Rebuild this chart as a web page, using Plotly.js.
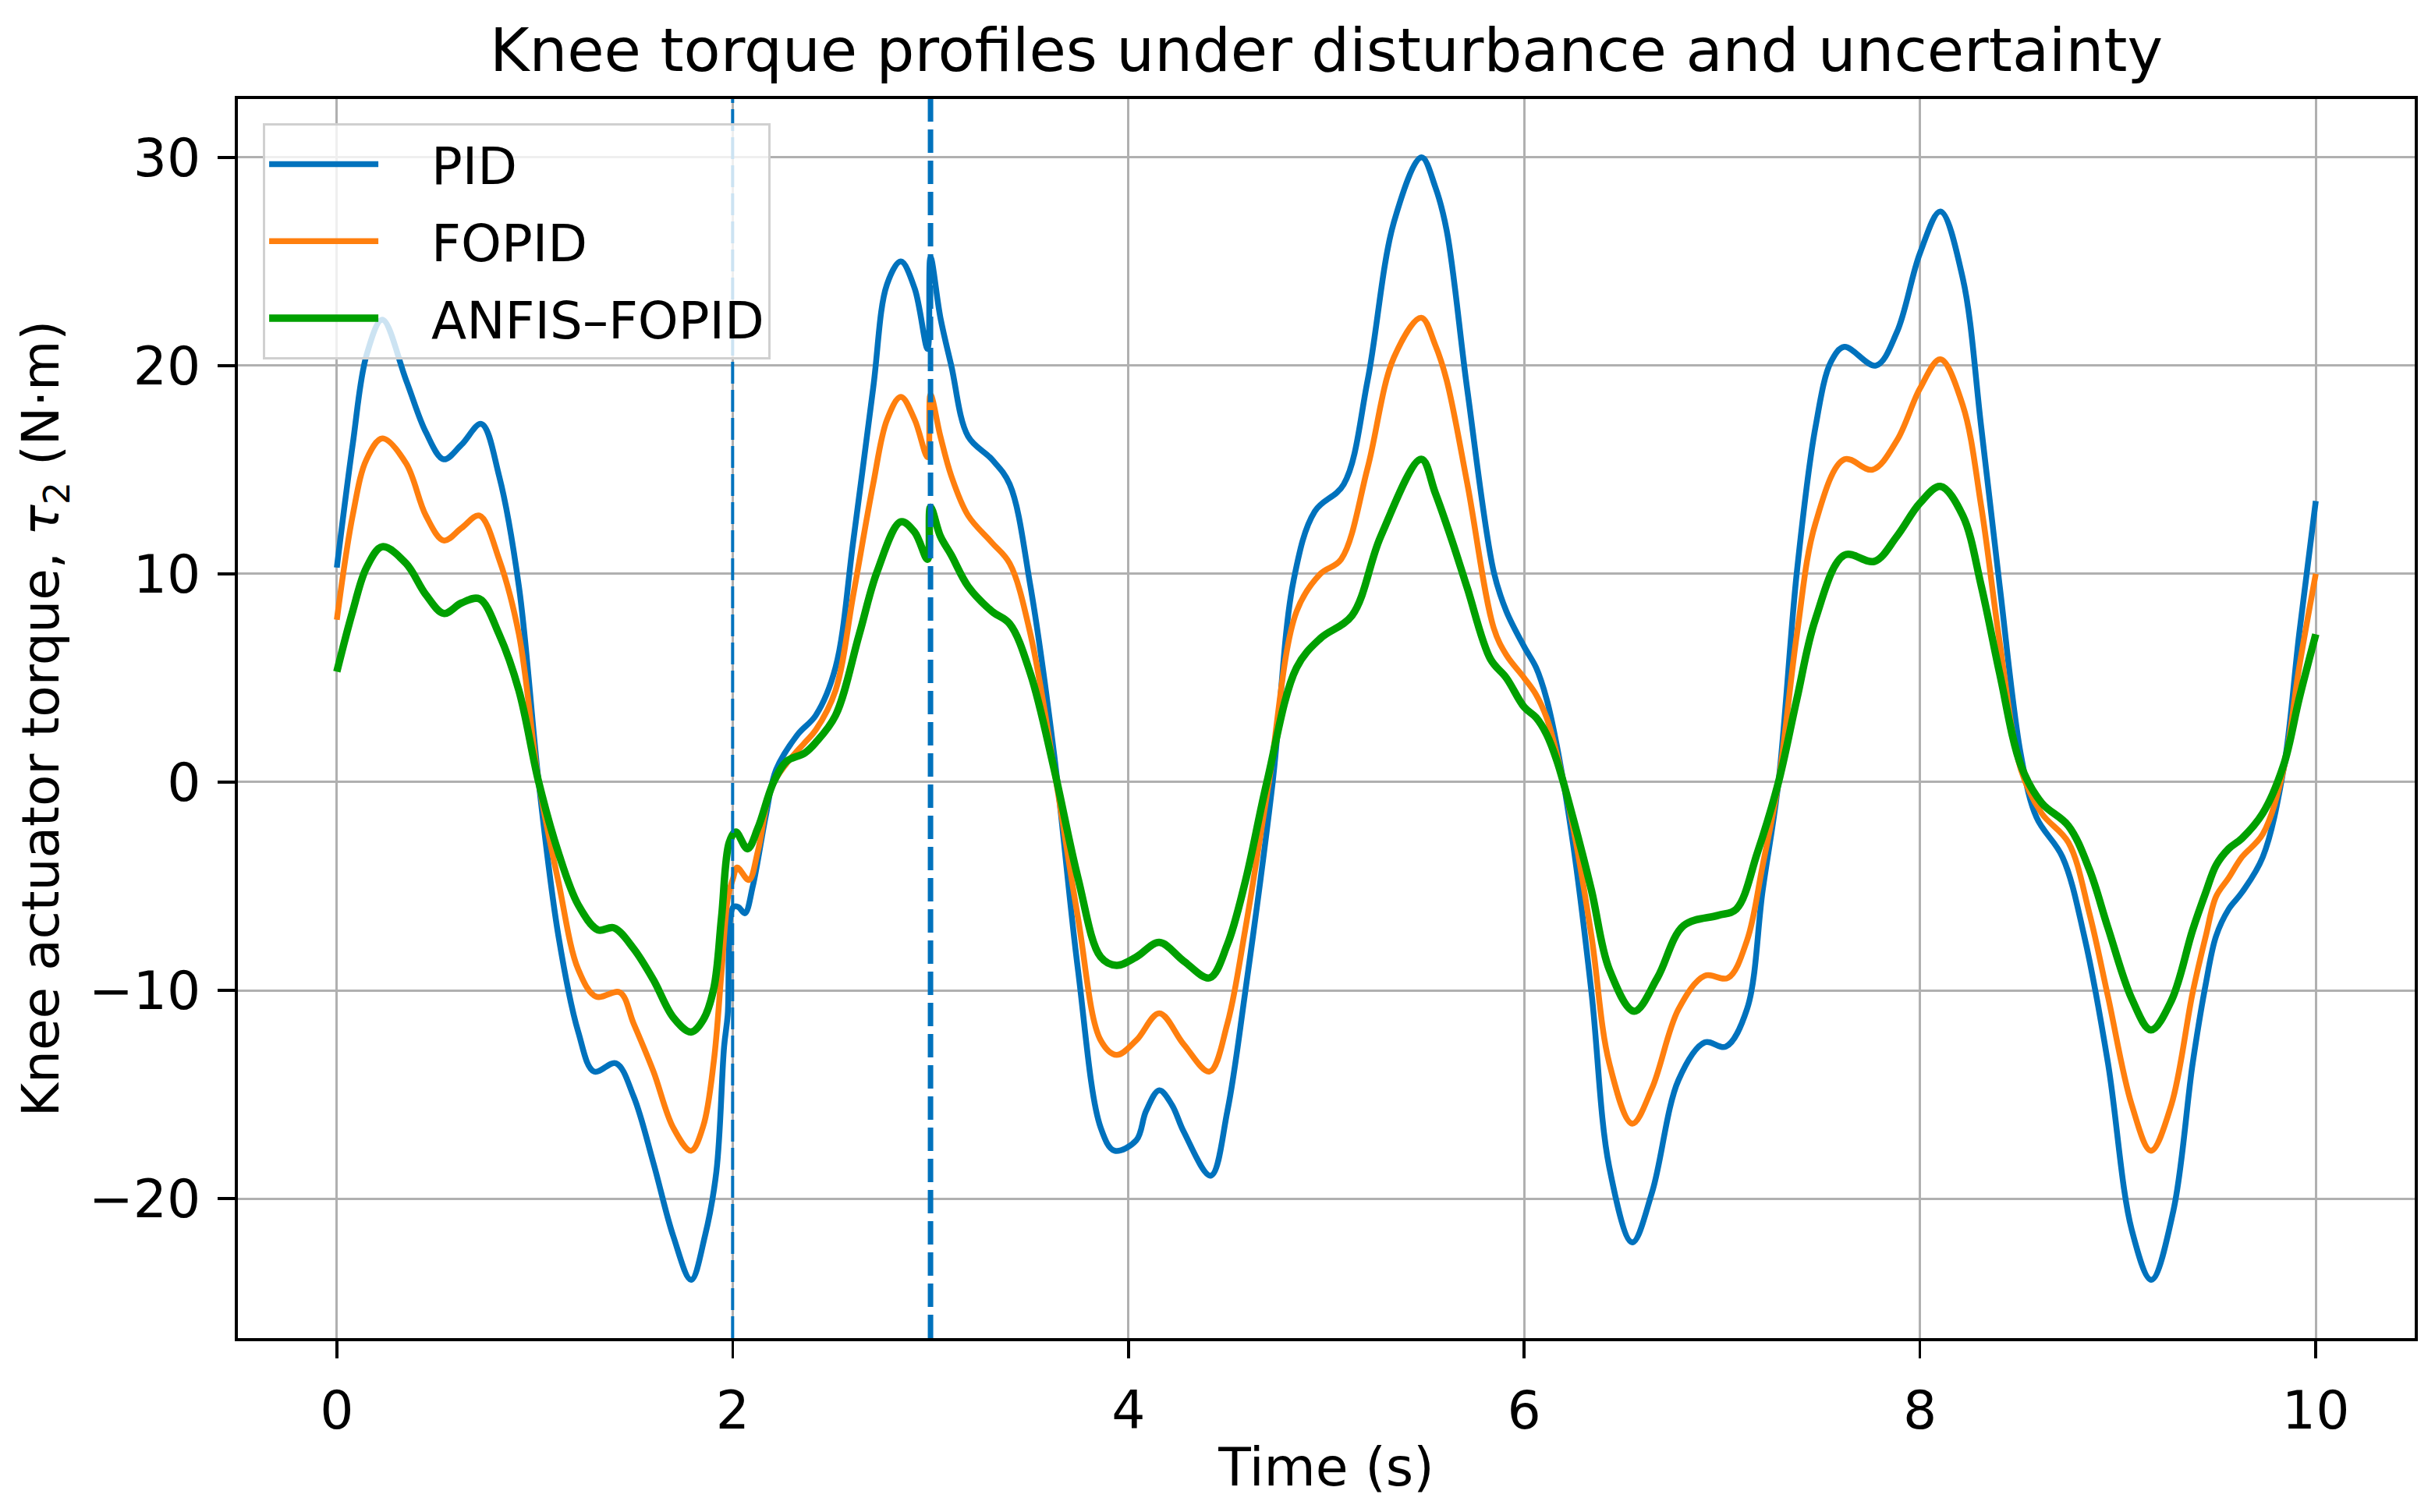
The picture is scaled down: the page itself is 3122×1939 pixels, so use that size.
<!DOCTYPE html>
<html>
<head>
<meta charset="utf-8">
<script src="https://cdn.plot.ly/plotly-3.0.1.min.js"></script>
<style>html,body{margin:0;padding:0;background:#fff;}#chart{width:3122px;height:1939px;}</style>
</head>
<body>
<div id="chart"></div>
<script>
const pidT = [0, 0.08, 0.15, 0.23, 0.35, 0.45, 0.54, 0.63, 0.73, 0.82, 0.92, 1.02, 1.12, 1.22, 1.30, 1.41, 1.50, 1.60, 1.70, 1.79, 1.86, 1.918, 1.957, 1.975, 2.003, 2.029, 2.062, 2.102, 2.168, 2.22, 2.33, 2.42, 2.52, 2.61, 2.71, 2.78, 2.85, 2.92, 2.985, 3.00, 3.05, 3.105, 3.19, 3.31, 3.40, 3.505, 3.625, 3.745, 3.86, 3.93, 4.04, 4.089, 4.156, 4.22, 4.28, 4.416, 4.50, 4.59, 4.729, 4.835, 4.942, 5.088, 5.209, 5.342, 5.481, 5.55, 5.608, 5.713, 5.846, 5.91, 6.0, 6.06, 6.113, 6.166, 6.246, 6.34, 6.43, 6.546, 6.646, 6.78, 6.912, 7.019, 7.126, 7.205, 7.285, 7.378, 7.471, 7.551, 7.618, 7.777, 7.883, 8.0, 8.103, 8.216, 8.31, 8.403, 8.51, 8.589, 8.72, 8.83, 8.95, 9.07, 9.169, 9.28, 9.378, 9.444, 9.496, 9.56, 9.627, 9.732, 9.837, 9.916, 10.0];
const pidY = [10.3, 16.2, 20.5, 22.2, 19.3, 16.8, 15.5, 16.2, 17.2, 14.7, 9.4, 0, -7.4, -12.0, -13.9, -13.5, -15.1, -18.3, -21.8, -23.9, -21.8, -18.7, -12.7, -11.2, -6.0, -6.0, -6.3, -5.0, -1.6, 0.6, 2.3, 3.2, 5.5, 11.6, 18.9, 23.9, 25.0, 23.7, 20.8, 25.2, 22.3, 20.0, 16.6, 15.5, 14.3, 9.4, 1.3, -9.0, -16.6, -17.7, -17.2, -15.8, -14.8, -15.5, -16.8, -18.9, -15.8, -10.1, 0, 9.7, 13.0, 14.3, 19.3, 26.9, 30.0, 28.6, 26.5, 18.8, 10.1, 8.2, 6.5, 5.5, 4.0, 1.7, -2.9, -10.1, -18.5, -22.1, -19.7, -14.3, -12.5, -12.7, -10.9, -5.2, 0, 10.1, 17.0, 20.2, 20.9, 20.0, 21.6, 25.4, 27.4, 24.2, 17.0, 9.4, 1.3, -1.7, -3.6, -7.4, -13.5, -21.5, -23.9, -20.6, -13.5, -9.7, -7.4, -6.1, -5.3, -3.6, 0.6, 7.1, 13.5];

const fopidT = [0, 0.08, 0.15, 0.23, 0.35, 0.45, 0.54, 0.63, 0.72, 0.82, 0.92, 1.02, 1.12, 1.22, 1.31, 1.43, 1.50, 1.60, 1.70, 1.79, 1.852, 1.905, 1.944, 1.977, 2.003, 2.023, 2.082, 2.128, 2.194, 2.273, 2.365, 2.42, 2.52, 2.61, 2.71, 2.78, 2.85, 2.92, 2.985, 3.00, 3.05, 3.105, 3.19, 3.31, 3.40, 3.505, 3.625, 3.745, 3.86, 3.94, 4.04, 4.156, 4.28, 4.41, 4.50, 4.59, 4.71, 4.85, 4.97, 5.075, 5.209, 5.342, 5.48, 5.55, 5.608, 5.713, 5.846, 5.91, 6.0, 6.06, 6.113, 6.166, 6.246, 6.34, 6.43, 6.546, 6.646, 6.78, 6.912, 7.03, 7.126, 7.205, 7.285, 7.378, 7.471, 7.618, 7.76, 7.883, 8.0, 8.103, 8.216, 8.31, 8.403, 8.51, 8.615, 8.75, 8.856, 8.95, 9.07, 9.167, 9.27, 9.378, 9.444, 9.496, 9.56, 9.627, 9.732, 9.837, 9.916, 10.0];
const fopidY = [7.8, 12.8, 15.5, 16.5, 15.3, 12.8, 11.6, 12.2, 12.8, 10.7, 7.1, 0, -4.8, -9.0, -10.3, -10.1, -11.6, -13.9, -16.6, -17.7, -16.5, -13.4, -9.1, -5.5, -4.6, -4.1, -4.7, -3.3, -0.3, 0.9, 1.9, 2.5, 4.4, 9.0, 14.3, 17.4, 18.5, 17.4, 15.6, 18.6, 16.6, 14.7, 12.8, 11.5, 10.5, 7.1, 0.6, -6.5, -12.4, -13.1, -12.4, -11.1, -12.6, -13.9, -11.6, -7.1, 0, 8.2, 10.0, 10.7, 15.1, 20.4, 22.3, 21.0, 19.3, 14.3, 7.4, 6.1, 5.0, 4.2, 3.1, 1.3, -2.1, -7.4, -13.5, -16.4, -14.7, -10.9, -9.3, -9.4, -7.6, -4.0, 0, 7.1, 12.4, 15.5, 15.0, 16.4, 18.9, 20.3, 18.1, 13.2, 6.7, 0.6, -1.5, -2.9, -6.3, -10.3, -15.5, -17.7, -15.5, -10.1, -7.4, -5.5, -4.6, -3.6, -2.5, 0.6, 5.5, 10.0];

const anfisT = [0, 0.08, 0.15, 0.23, 0.35, 0.45, 0.54, 0.63, 0.72, 0.82, 0.92, 1.02, 1.12, 1.22, 1.32, 1.40, 1.50, 1.60, 1.70, 1.79, 1.852, 1.905, 1.944, 1.983, 2.016, 2.075, 2.128, 2.207, 2.273, 2.365, 2.42, 2.52, 2.64, 2.73, 2.85, 2.92, 2.985, 3.00, 3.05, 3.105, 3.19, 3.31, 3.40, 3.505, 3.625, 3.745, 3.86, 3.94, 4.04, 4.156, 4.28, 4.41, 4.50, 4.59, 4.70, 4.85, 4.97, 5.13, 5.275, 5.48, 5.55, 5.635, 5.713, 5.83, 5.91, 6.0, 6.06, 6.113, 6.166, 6.246, 6.34, 6.43, 6.556, 6.673, 6.805, 6.98, 7.072, 7.178, 7.285, 7.378, 7.471, 7.618, 7.77, 7.883, 8.0, 8.103, 8.216, 8.31, 8.403, 8.51, 8.615, 8.75, 8.856, 8.95, 9.07, 9.167, 9.27, 9.378, 9.444, 9.496, 9.56, 9.627, 9.732, 9.837, 9.916, 10.0];
const anfisY = [5.3, 8.2, 10.3, 11.3, 10.5, 9.0, 8.1, 8.6, 8.8, 7.1, 4.4, 0, -3.4, -5.9, -7.1, -7.0, -8.0, -9.5, -11.3, -12.0, -11.4, -9.9, -6.5, -2.9, -2.4, -3.2, -2.2, 0, 1.0, 1.4, 1.9, 3.2, 7.1, 10.1, 12.5, 12.0, 10.7, 13.2, 11.8, 10.9, 9.4, 8.2, 7.6, 5.2, 0.6, -4.6, -8.4, -8.8, -8.4, -7.7, -8.6, -9.4, -7.8, -4.8, 0, 5.5, 6.9, 8.0, 11.8, 15.5, 13.9, 11.6, 9.3, 5.9, 5.0, 3.6, 3.1, 2.3, 1.0, -1.7, -5.2, -9.0, -11.0, -9.4, -6.9, -6.4, -6.1, -3.4, 0, 4.0, 7.8, 10.9, 10.6, 11.8, 13.4, 14.2, 12.8, 9.4, 5.2, 0.8, -1.0, -2.1, -4.2, -7.0, -10.4, -11.9, -10.5, -7.1, -5.3, -4.0, -3.2, -2.7, -1.5, 0.8, 4.0, 7.1];

const seriesNames = ['PID', 'FOPID', 'ANFIS\u2013FOPID'];
const seriesColors = ['#0072bd', '#ff7f0e', '#00a000'];
const eventTimes = [2, 3];
const xTicks = [0, 2, 4, 6, 8, 10];
const yTicks = [-20, -10, 0, 10, 20, 30];

const FONT = 'DejaVu Sans, Liberation Sans, sans-serif';
const widths = [7.5, 7.5, 9.5];
const xs = [pidT, fopidT, anfisT];
const ys = [pidY, fopidY, anfisY];

const traces = seriesNames.map((n, i) => ({
  x: xs[i], y: ys[i], name: '\u00a0\u00a0\u00a0' + n, type: 'scatter', mode: 'lines',
  legendgroup: 'g' + i,
  line: {color: seriesColors[i], width: widths[i], shape: 'spline', smoothing: 1.0}
}));

const shapes = eventTimes.map((t, i) => ({
  type: 'line', xref: 'x', yref: 'paper', x0: t, x1: t, y0: 0, y1: 1,
  line: {color: '#0072bd', width: i === 0 ? 4 : 7, dash: i === 0 ? '28px,8px' : '30px,10px'},
  layer: 'above'
}));

const axisCommon = {
  showline: true, linecolor: '#000', linewidth: 4, mirror: true,
  ticks: 'outside', ticklen: 22, tickwidth: 3.5, tickcolor: '#000',
  showgrid: true, gridcolor: '#b0b0b0', gridwidth: 3,
  zeroline: false,
  tickfont: {family: FONT, size: 68, color: '#000'}
};

const layout = {
  width: 3122, height: 1939,
  paper_bgcolor: '#fff', plot_bgcolor: '#fff',
  margin: {l: 305, r: 26, t: 127, b: 223},
  font: {family: FONT, color: '#000'},
  title: {text: 'Knee torque profiles under disturbance and uncertainty',
    font: {family: FONT, size: 77, color: '#000'},
    x: 0.5, xref: 'paper', xanchor: 'center', y: 1 - 64/1939, yref: 'container', yanchor: 'middle'},
  xaxis: Object.assign({}, axisCommon, {
    range: [-0.5, 10.5], tickvals: xTicks, ticktext: xTicks.map(String),
    ticklabelstandoff: 8,
    title: {text: 'Time (s)', font: {family: FONT, size: 68, color: '#000'}, standoff: 12}
  }),
  yaxis: Object.assign({}, axisCommon, {
    range: [-26.7, 32.8], tickvals: yTicks, ticktext: yTicks.map(v => v < 0 ? '\u2212' + Math.abs(v) : String(v)),
    ticklabelstandoff: 8,
    title: {text: 'Knee actuator torque, <i>\u03c4</i><sub>2</sub> (N\u00b7m)', font: {family: FONT, size: 66, color: '#000'}, standoff: 18}
  }),
  showlegend: true,
  legend: {
    x: 0.0115, y: 0.9805, xanchor: 'left', yanchor: 'top',
    bgcolor: 'rgba(255,255,255,0.8)', bordercolor: '#d0d0d0', borderwidth: 3,
    font: {family: FONT, size: 66, color: '#000'},
    itemwidth: 140, tracegroupgap: 10, traceorder: 'grouped'
  },
  shapes: shapes
};

Plotly.newPlot('chart', traces, layout, {staticPlot: true, displayModeBar: false});
</script>
</body>
</html>
